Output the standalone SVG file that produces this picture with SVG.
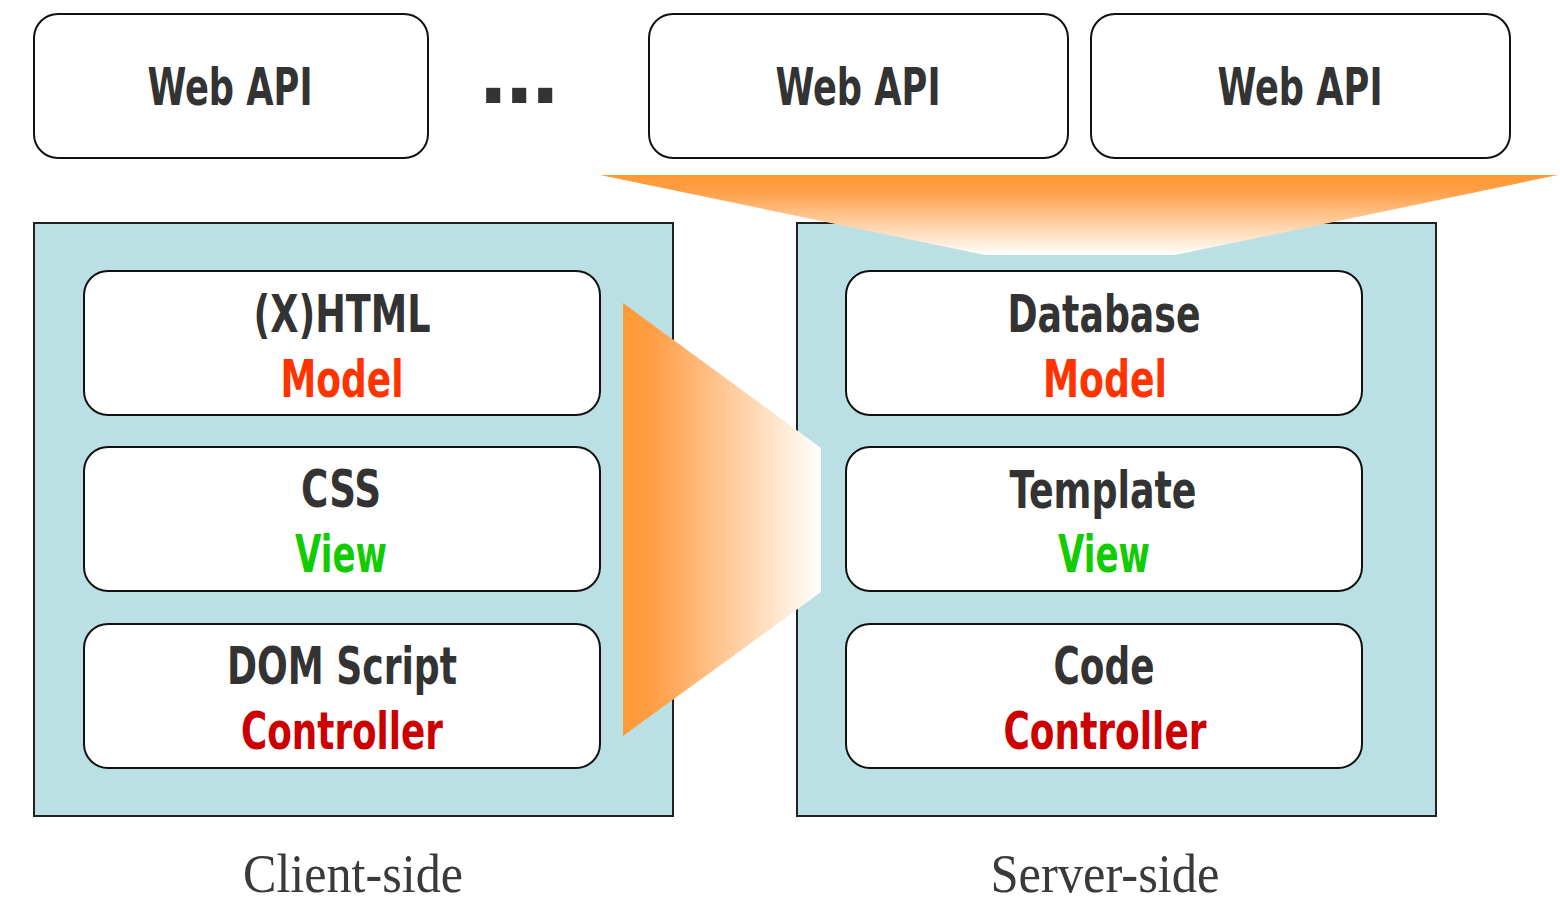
<svg xmlns="http://www.w3.org/2000/svg" width="1560" height="903" viewBox="0 0 1560 903">
<defs>
<linearGradient id="gV" x1="0" y1="0" x2="0" y2="1">
<stop offset="0" stop-color="#FF9933"/>
<stop offset="0.2" stop-color="#FF9E45"/>
<stop offset="1" stop-color="#FFFFFF"/>
</linearGradient>
<linearGradient id="gH" x1="0" y1="0" x2="1" y2="0">
<stop offset="0" stop-color="#FF9933"/>
<stop offset="0.15" stop-color="#FF9E45"/>
<stop offset="1" stop-color="#FFFFFF"/>
</linearGradient>
<style>
.box{fill:#fff;stroke:#111;stroke-width:2}
.cont{fill:#BBE0E3;stroke:#222;stroke-width:2}
.t{font-family:"Liberation Sans Narrow","DejaVu Sans Condensed","Liberation Sans",sans-serif;font-weight:bold;font-size:52px;text-anchor:middle;fill:#333}
.m{fill:#FF3300}
.v{fill:#11CC00}
.c{fill:#CC0000}
.s{font-family:"Liberation Serif","DejaVu Serif",serif;font-size:54px;text-anchor:middle;fill:#3a3a3a}
.d{font-family:"DejaVu Sans",sans-serif;font-weight:bold;font-size:80px;fill:#333;letter-spacing:-4.4px}
</style>
</defs>
<rect width="1560" height="903" fill="#fff"/>

<g id="api1"><rect class="box" x="34" y="14" width="394" height="144" rx="24"/><text class="t" x="230" y="105" textLength="165" lengthAdjust="spacingAndGlyphs">Web API</text></g>
<g id="dots"><text class="d" x="478" y="103">...</text></g>
<g id="api2"><rect class="box" x="649" y="14" width="419" height="144" rx="24"/><text class="t" x="858" y="105" textLength="165" lengthAdjust="spacingAndGlyphs">Web API</text></g>
<g id="api3"><rect class="box" x="1091" y="14" width="419" height="144" rx="24"/><text class="t" x="1300" y="105" textLength="165" lengthAdjust="spacingAndGlyphs">Web API</text></g>

<g id="client"><rect class="cont" x="34" y="223" width="639" height="593"/></g>
<g id="server"><rect class="cont" x="797" y="223" width="639" height="593"/></g>

<g id="connectors">
<polygon points="600,175 1558,175 1175,255 985,255" fill="url(#gV)"/>
<polygon points="623,303 821,448 821,592 623,736" fill="url(#gH)"/>
</g>

<g id="xhtml"><rect class="box" x="84" y="271" width="516" height="144" rx="24"/>
<text class="t" x="342" y="332" textLength="177" lengthAdjust="spacingAndGlyphs">(X)HTML</text>
<text class="t m" x="342" y="397" textLength="123" lengthAdjust="spacingAndGlyphs">Model</text></g>
<g id="css"><rect class="box" x="84" y="447" width="516" height="144" rx="24"/>
<text class="t" x="341" y="507" textLength="80" lengthAdjust="spacingAndGlyphs">CSS</text>
<text class="t v" x="341" y="572" textLength="92" lengthAdjust="spacingAndGlyphs">View</text></g>
<g id="dom"><rect class="box" x="84" y="624" width="516" height="144" rx="24"/>
<text class="t" x="342" y="684" textLength="230" lengthAdjust="spacingAndGlyphs">DOM Script</text>
<text class="t c" x="342" y="749" textLength="202" lengthAdjust="spacingAndGlyphs">Controller</text></g>

<g id="database"><rect class="box" x="846" y="271" width="516" height="144" rx="24"/>
<text class="t" x="1104" y="332" textLength="193" lengthAdjust="spacingAndGlyphs">Database</text>
<text class="t m" x="1105" y="397" textLength="124" lengthAdjust="spacingAndGlyphs">Model</text></g>
<g id="template"><rect class="box" x="846" y="447" width="516" height="144" rx="24"/>
<text class="t" x="1103" y="508" textLength="187" lengthAdjust="spacingAndGlyphs">Template</text>
<text class="t v" x="1104" y="572" textLength="92" lengthAdjust="spacingAndGlyphs">View</text></g>
<g id="code"><rect class="box" x="846" y="624" width="516" height="144" rx="24"/>
<text class="t" x="1104" y="684" textLength="101" lengthAdjust="spacingAndGlyphs">Code</text>
<text class="t c" x="1105" y="749" textLength="203" lengthAdjust="spacingAndGlyphs">Controller</text></g>

<g id="labels">
<text class="s" x="353" y="892" textLength="220" lengthAdjust="spacingAndGlyphs">Client-side</text>
<text class="s" x="1105" y="892" textLength="229" lengthAdjust="spacingAndGlyphs">Server-side</text>
</g>
</svg>
